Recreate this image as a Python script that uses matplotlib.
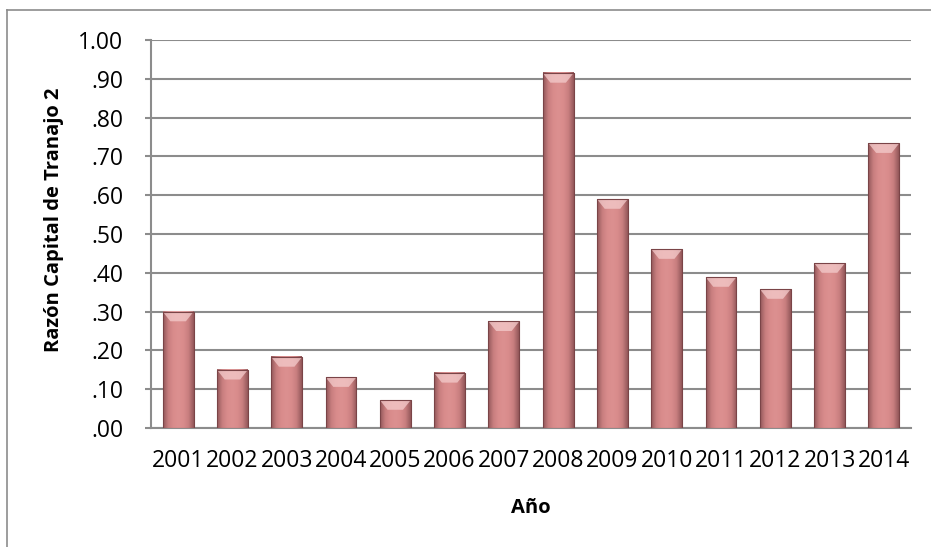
import matplotlib
matplotlib.use("Agg")
import matplotlib.pyplot as plt
import numpy as np
from matplotlib.colors import LinearSegmentedColormap
from matplotlib.lines import Line2D

years = ["2001", "2002", "2003", "2004", "2005", "2006", "2007",
         "2008", "2009", "2010", "2011", "2012", "2013", "2014"]
values = [0.30, 0.15, 0.183, 0.131, 0.072, 0.142, 0.275,
          0.915, 0.59, 0.461, 0.389, 0.358, 0.425, 0.734]
yticks = [0.0, 0.1, 0.2, 0.3, 0.4, 0.5, 0.6, 0.7, 0.8, 0.9, 1.0]
ytick_labels = [".00", ".10", ".20", ".30", ".40", ".50", ".60", ".70", ".80", ".90", "1.00"]

plt.rcParams['font.family'] = ['Open Sans', 'DejaVu Sans']

fig = plt.figure(figsize=(9.31, 5.47), dpi=100)
ax = fig.add_axes([151/931, 119/547, 760/931, 388/547])

x = np.arange(len(years))
width = 0.57
bars = ax.bar(x, values, width=width, color='none', edgecolor='none', zorder=3)

cmap = LinearSegmentedColormap.from_list(
    "bev", ["#94585a", "#c87e7f", "#d98c8c", "#dc9090", "#d98c8c", "#c87e7f", "#94585a"])
grad = np.linspace(0, 1, 64).reshape(1, -1)
for b in bars:
    x0, w, h = b.get_x(), b.get_width(), b.get_height()
    ax.imshow(grad, cmap=cmap, extent=[x0, x0 + w, 0, h], aspect='auto',
              zorder=3, interpolation='bicubic')
    cap = min(0.025, h * 0.4)
    ax.fill([x0, x0 + w, x0 + w * 0.75, x0 + w * 0.25],
            [h, h, h - cap, h - cap], color="#f4cccc", alpha=0.75, zorder=4, lw=0)
    ax.plot([x0, x0 + w, x0 + w, x0, x0], [0, 0, h, h, 0], color="#7a4447",
            lw=0.8, zorder=5)

ax.set_xlim(-0.5, len(years) - 0.5)
ax.set_ylim(0, 1.0)
ax.set_yticks(yticks)
ax.set_yticklabels(ytick_labels)
ax.set_xticks(x)
ax.set_xticklabels(years)
ax.yaxis.grid(True, color="#8c8c8c", lw=1.5, zorder=0)
ax.set_axisbelow(True)
for s in ["top", "right"]:
    ax.spines[s].set_visible(False)
for s in ["left", "bottom"]:
    ax.spines[s].set_color("#8c8c8c")
    ax.spines[s].set_linewidth(1.5)
ax.tick_params(axis='y', length=4, width=1.5, color="#8c8c8c", labelsize=16.5, pad=16)
ax.tick_params(axis='x', length=0, labelsize=16.5, pad=15)

ax.set_ylabel("Razón Capital de Tranajo 2", fontsize=14.5, fontweight='bold')
ax.yaxis.set_label_coords(-87/760, 0.536)
ax.set_xlabel("Año", fontsize=14.5, fontweight='bold', labelpad=18)

fig.add_artist(Line2D([7/931, 7/931], [0, 1 - 10/547], transform=fig.transFigure, color="#8c8c8c", lw=1.2))
fig.add_artist(Line2D([7/931, 1], [1 - 10/547, 1 - 10/547], transform=fig.transFigure, color="#8c8c8c", lw=1.2))

fig.savefig("out.png", dpi=100)
